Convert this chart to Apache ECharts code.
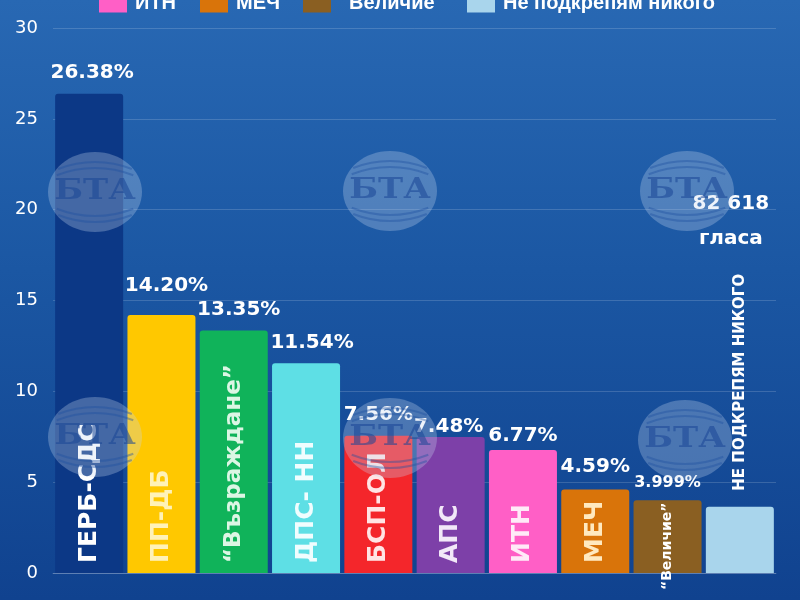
<!DOCTYPE html>
<html>
<head>
    <meta charset="utf-8">
    <title>Избори - резултати</title>
    <script src="https://cdn.jsdelivr.net/npm/echarts@6/dist/echarts.min.js"></script>
    <style>
        html, body { margin: 0; padding: 0; }
        body { background: linear-gradient(180deg, #2868b3 0%, #1b57a3 45%, #10428f 100%); }
    </style>
</head>
<body>
<div id="main" style="width: 800px;height:600px;"></div>

<script type="text/javascript">
    // данни
    var parties = ['ГЕРБ-СДС', 'ПП-ДБ', '“Възраждане”', 'ДПС- НН', 'БСП-ОЛ', 'АПС', 'ИТН', 'МЕЧ', '“Величие”', 'НЕ ПОДКРЕПЯМ НИКОГО'];
    var values = [26.38, 14.20, 13.35, 11.54, 7.56, 7.48, 6.77, 4.59, 3.999, 3.65];
    var valueLabels = ['26.38%', '14.20%', '13.35%', '11.54%', '7.56%', '7.48%', '6.77%', '4.59%', '3.999%', '82 618\nгласа'];
    var barColors = ['#0c3886', '#ffc800', '#10b35a', '#5edfe5', '#f4262b', '#7d40a8', '#ff5fc6', '#d9740a', '#8a5f22', '#a9d5ec'];
    var nameColors = ['#ffffff', '#fff2b8', '#dcf6e4', '#f0fdfe', '#ffe4e4', '#f2e8f8', '#ffeaf7', '#ffe9bf', '#ffffff', '#ffffff'];
    var legendNames = ['ИТН', 'МЕЧ', 'Величие', 'Не подкрепям никого'];
    var legendColors = ['#ff5fc6', '#d9740a', '#8a5f22', '#a9d5ec'];
    var yTicks = [0, 5, 10, 15, 20, 25, 30];

    var myChart = echarts.init(document.getElementById('main'));

    var valDist = [11, 19, 11, 11, 11, 0, 4, 13, 10, 250];
    var valOffX = [3, 5, 5, 6, 0, -2, 0, 0, 0, -9];

    var valueData = values.map(function (v, i) {
        var item = {
            value: v,
            itemStyle: {color: barColors[i], borderRadius: [3, 3, 0, 0]},
            label: {distance: valDist[i], offset: [valOffX[i], 0]}
        };
        if (i == 8) {
            item.label.fontSize = 16;
        }
        if (i == 9) {
            item.label.lineHeight = 35;
        }
        return item;
    });

    var nameData = values.map(function (v, i) {
        var item = {value: v, label: {color: nameColors[i]}};
        if (i == 2) {
            item.label.fontSize = 23;
        }
        if (i == 8) {
            item.label.fontSize = 14;
            item.label.distance = -17;
        }
        if (i == 9) {
            item.label.position = 'top';
            item.label.fontSize = 15;
            item.label.distance = 16;
        }
        return item;
    });

    var series = [
        {
            name: 'стойност',
            type: 'bar',
            barWidth: 68,
            barGap: '-100%',
            data: valueData,
            z: 2,
            label: {
                show: true,
                position: 'top',
                color: '#ffffff',
                fontFamily: 'DejaVu Sans',
                fontWeight: 'bold',
                fontSize: 20,
                formatter: function (p) { return valueLabels[p.dataIndex]; }
            }
        },
        {
            name: 'име',
            type: 'bar',
            barWidth: 68,
            barGap: '-100%',
            data: nameData,
            z: 3,
            itemStyle: {color: 'rgba(0,0,0,0)'},
            label: {
                show: true,
                position: 'insideBottom',
                rotate: 90,
                align: 'left',
                verticalAlign: 'middle',
                distance: 10,
                fontFamily: 'DejaVu Sans',
                fontWeight: 'bold',
                fontSize: 25,
                formatter: function (p) { return parties[p.dataIndex]; }
            }
        }
    ];

    // празни серии само за легендата (горният ред е отрязан)
    var legends = [];
    var legendLeft = [99, 200, 303, 467];
    var legendTextGap = [3, 3, 13, 3];
    for (var i = 0; i < legendNames.length; i++) {
        series.push({
            name: legendNames[i],
            type: 'bar',
            barWidth: 68,
            barGap: '-100%',
            data: [],
            itemStyle: {color: legendColors[i]}
        });
        legends.push({
            data: [legendNames[i]],
            left: legendLeft[i],
            top: -7,
            padding: 0,
            itemWidth: 28,
            itemHeight: 19,
            icon: 'rect',
            selectedMode: false,
            textStyle: {
                color: '#ffffff', fontFamily: 'Liberation Sans', fontWeight: 'bold', fontSize: 20,
                padding: [6, 0, 0, legendTextGap[i]]
            }
        });
    }

    // воден знак БТА
    var wmCenters = [[95, 192], [390, 191], [687, 191], [95, 437], [390, 438], [685, 440]];
    var graphics = [];
    wmCenters.forEach(function (c) {
        graphics.push({
            type: 'ellipse',
            shape: {cx: c[0], cy: c[1], rx: 47, ry: 40},
            style: {fill: 'rgba(200,215,240,0.30)'},
            z: 100
        });
        [[-80, 104], [-70, 100], [80, 104], [70, 100]].forEach(function (a) {
            var up = a[0] < 0;
            graphics.push({
                type: 'arc',
                shape: {
                    cx: c[0], cy: c[1] - a[0], r: a[1],
                    startAngle: up ? -Math.PI * 0.62 : Math.PI * 0.38,
                    endAngle: up ? -Math.PI * 0.38 : Math.PI * 0.62
                },
                style: {stroke: 'rgba(30,80,160,0.4)', lineWidth: 2, fill: null},
                z: 101
            });
        });
        graphics.push({
            type: 'text',
            x: c[0], y: c[1],
            scaleX: 1.25,
            style: {
                text: 'БТА', fill: 'rgba(25,70,150,0.55)',
                font: 'bold 27px "DejaVu Serif"',
                align: 'center', verticalAlign: 'middle'
            },
            z: 101
        });
    });

    myChart.setOption({
        backgroundColor: 'transparent',
        animation: false,
        legend: legends,
        grid: {left: 53, right: 24, top: 28, bottom: 27},
        xAxis: {
            type: 'category',
            data: parties,
            axisLabel: {show: false},
            axisTick: {show: false},
            axisLine: {lineStyle: {color: 'rgba(255,255,255,0.2)'}}
        },
        yAxis: {
            type: 'value',
            min: yTicks[0],
            max: yTicks[yTicks.length - 1],
            interval: 5,
            axisLabel: {color: '#ffffff', fontSize: 18, fontFamily: 'DejaVu Sans', margin: 15},
            splitLine: {lineStyle: {color: 'rgba(255,255,255,0.16)'}}
        },
        graphic: graphics,
        series: series
    });
</script>
</body>
</html>
